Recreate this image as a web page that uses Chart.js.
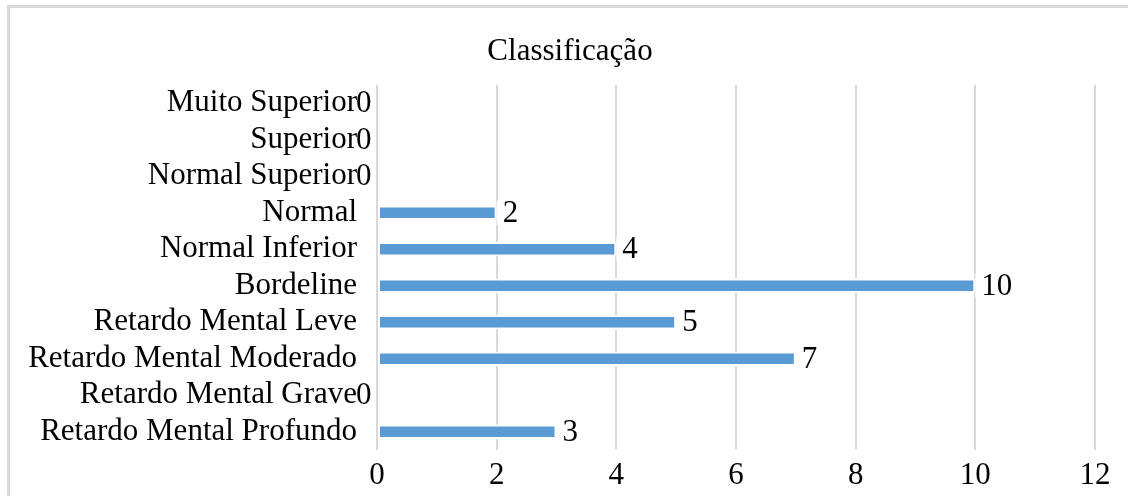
<!DOCTYPE html>
<html>
<head>
<meta charset="utf-8">
<script src="https://cdn.jsdelivr.net/npm/chart.js@4"></script>
<style>
  html, body { margin: 0; padding: 0; background: #fff; overflow: hidden; }
  #frame { position: absolute; left: 7px; top: 5px; width: 1200px; height: 600px; border: 3px solid #d9d9d9; box-sizing: border-box; }
  #wrap { position: absolute; left: 0; top: 0; width: 1128px; height: 496px; }
</style>
</head>
<body>
<div id="frame"></div>
<div id="wrap"><canvas id="c" width="1128" height="496"></canvas></div>
<script>
const titleText = 'Classificação';
const categories = [
  'Muito Superior',
  'Superior',
  'Normal Superior',
  'Normal',
  'Normal Inferior',
  'Bordeline',
  'Retardo Mental Leve',
  'Retardo Mental Moderado',
  'Retardo Mental Grave',
  'Retardo Mental Profundo'
];
const values = [0, 0, 0, 2, 4, 10, 5, 7, 0, 3];
const xTicks = [0, 2, 4, 6, 8, 10, 12];

const FONT = 'Liberation Serif';
const FSIZE = 31;

const chartTitle = {
  id: 'chartTitle',
  afterDraw(chart) {
    const ctx = chart.ctx;
    ctx.save();
    ctx.font = FSIZE + 'px "' + FONT + '"';
    ctx.fillStyle = '#000';
    ctx.textAlign = 'center';
    ctx.textBaseline = 'middle';
    ctx.fillText(titleText, chart.width / 2 + 6, 52);
    ctx.restore();
  }
};

const valueLabels = {
  id: 'valueLabels',
  afterDatasetsDraw(chart) {
    const ctx = chart.ctx;
    const meta = chart.getDatasetMeta(0);
    const xs = chart.scales.x;
    ctx.save();
    ctx.font = FSIZE + 'px "' + FONT + '"';
    ctx.textBaseline = 'middle';
    ctx.textAlign = 'left';
    meta.data.forEach((el, i) => {
      const v = chart.data.datasets[0].data[i];
      const txt = String(v);
      const w = ctx.measureText(txt).width;
      if (v === 0) {
        ctx.fillStyle = '#000';
        ctx.fillText(txt, xs.getPixelForValue(0) - 21, el.y + 1);
      } else {
        ctx.fillStyle = '#fff';
        ctx.fillRect(el.x, el.y - 12, w + 10, 24);
        ctx.fillStyle = '#000';
        ctx.fillText(txt, el.x + 6, el.y + 1);
      }
    });
    ctx.restore();
  }
};

new Chart(document.getElementById('c'), {
  type: 'bar',
  data: {
    labels: categories,
    datasets: [{
      data: values,
      backgroundColor: '#5b9bd5',
      borderColor: '#ffffff',
      borderWidth: 2,
      borderSkipped: false,
      barPercentage: 0.4,
      categoryPercentage: 1.0
    }]
  },
  options: {
    indexAxis: 'y',
    responsive: false,
    animation: false,
    layout: { padding: { left: 0, right: 33, top: 85, bottom: 0 } },
    plugins: {
      legend: { display: false },
      tooltip: { enabled: false },
      title: { display: false }
    },
    scales: {
      x: {
        min: 0,
        max: 12,
        afterBuildTicks(scale) { scale.ticks = xTicks.map(v => ({ value: v })); },
        afterFit(scale) { scale.height = 46; },
        grid: { color: '#d9d9d9', lineWidth: 2, drawTicks: false },
        border: { display: false },
        ticks: {
          color: '#000',
          font: { family: FONT, size: FSIZE },
          padding: 7,
          maxRotation: 0
        }
      },
      y: {
        afterFit(scale) { scale.width = 377; },
        grid: { display: false, drawTicks: false },
        border: { display: false },
        ticks: {
          color: '#000',
          font: { family: FONT, size: FSIZE },
          padding: 20,
          autoSkip: false
        }
      }
    }
  },
  plugins: [valueLabels, chartTitle]
});
</script>
</body>
</html>
